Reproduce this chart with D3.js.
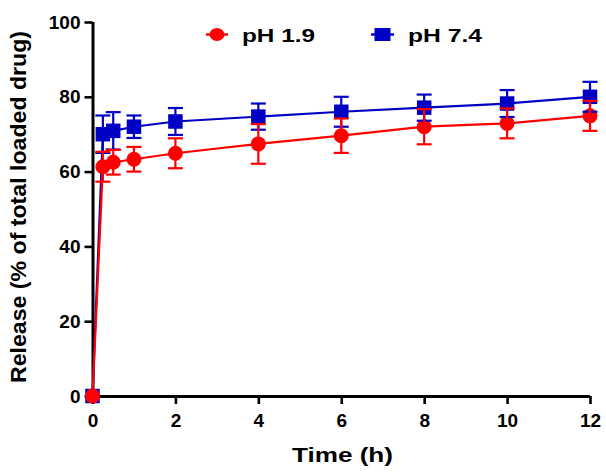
<!DOCTYPE html>
<html>
<head>
<meta charset="utf-8">
<script src="https://cdn.jsdelivr.net/npm/d3@7"></script>
<style>
  html, body { margin: 0; padding: 0; background: #fff; }
  svg { display: block; }
  text { font-family: "Liberation Sans", Arial, Helvetica, sans-serif; font-weight: bold; fill: #000; }
</style>
</head>
<body>
<div id="chart"></div>
<script>
// ---- data ----
const time = [0, 0.25, 0.5, 1, 2, 4, 6, 8, 10, 12];
const ph19 = [0, 61.3, 62.5, 63.3, 64.9, 67.4, 69.6, 72.0, 72.9, 74.9];
const ph19Err = [0, 4.0, 3.3, 3.3, 4.0, 5.3, 4.6, 4.7, 4.0, 4.0];
const ph74 = [0, 70.0, 70.9, 72.0, 73.4, 74.7, 76.0, 77.1, 78.2, 80.0];
const ph74Err = [0, 5.0, 5.0, 3.0, 3.6, 3.5, 4.0, 3.5, 3.6, 4.0];
const xTicks = [0, 2, 4, 6, 8, 10, 12];
const yTicks = [0, 20, 40, 60, 80, 100];
const seriesNames = ["pH 1.9", "pH 7.4"];
const xTitle = "Time (h)";
const yTitle = "Release (% of total loaded drug)";

const W = 606, H = 476;
const RED = "#ff0000", BLUE = "#0000c4";

const svg = d3.select("#chart").append("svg").attr("width", W).attr("height", H);

const x = d3.scaleLinear().domain([0, 12]).range([92.5, 590]);
const y = d3.scaleLinear().domain([0, 100]).range([396, 22]);

// axes
const xAxis = svg.append("g").attr("transform", "translate(0,396)")
  .call(d3.axisBottom(x).tickValues(xTicks).tickSize(8).tickSizeOuter(0).tickPadding(10).tickFormat(d3.format("d")));
const yAxis = svg.append("g").attr("transform", "translate(92.5,0)")
  .call(d3.axisLeft(y).tickValues(yTicks).tickSize(8).tickSizeOuter(0).tickPadding(4).tickFormat(d3.format("d")));
[xAxis, yAxis].forEach(a => {
  a.select(".domain").attr("stroke", "#000").attr("stroke-width", 3);
  a.selectAll(".tick line").attr("stroke", "#000").attr("stroke-width", 2.6);
  a.selectAll(".tick text").style("font-size", "19px").style("font-weight", "bold")
    .style("font-family", "'Liberation Sans', Arial, sans-serif").attr("fill", "#000");
});
// extend x domain to meet y axis corner
xAxis.select(".domain").attr("d", `M${x(0) - 1.5},0.5H${x(12)}`);
yAxis.select(".domain").attr("d", `M0.5,${y(0) + 1.5}V${y(100)}`);

// titles
svg.append("text").attr("x", 292).attr("y", 461.5).style("font-size", "21px")
  .attr("textLength", 101).attr("lengthAdjust", "spacingAndGlyphs").text(xTitle);
svg.append("text").attr("transform", "translate(26,383) rotate(-90)").style("font-size", "22px")
  .attr("textLength", 352).attr("lengthAdjust", "spacingAndGlyphs").text(yTitle);

// series
const series = [
  { name: seriesNames[1], vals: ph74, err: ph74Err, color: BLUE, shape: "square" },
  { name: seriesNames[0], vals: ph19, err: ph19Err, color: RED, shape: "circle" }
];

const line = d3.line().x(d => x(d[0])).y(d => y(d[1]));

series.forEach(s => {
  const pts = time.map((t, i) => [t, s.vals[i]]);
  svg.append("path").datum(pts).attr("d", line).attr("fill", "none")
    .attr("stroke", s.color).attr("stroke-width", 2.2);
});

function drawMarker(g, s, cx, cy, size) {
  if (s.shape === "circle") {
    g.append("circle").attr("cx", cx).attr("cy", cy).attr("r", size / 2).attr("fill", s.color);
  } else {
    g.append("rect").attr("x", cx - size / 2).attr("y", cy - size / 2)
      .attr("width", size).attr("height", size).attr("fill", s.color);
  }
}

series.forEach(s => {
  const g = svg.append("g");
  time.forEach((t, i) => drawMarker(g, s, x(t), y(s.vals[i]), s.shape === "circle" ? 15 : 14.5));
});

series.forEach(s => {
  const g = svg.append("g").attr("stroke", s.color).attr("stroke-width", 2.2).attr("fill", "none");
  time.forEach((t, i) => {
    if (!s.err[i]) return;
    const cx = x(t), y1 = y(s.vals[i] + s.err[i]), y0 = y(s.vals[i] - s.err[i]);
    g.append("line").attr("x1", cx).attr("x2", cx).attr("y1", y1).attr("y2", y0);
    g.append("line").attr("x1", cx - 7.5).attr("x2", cx + 7.5).attr("y1", y1).attr("y2", y1);
    g.append("line").attr("x1", cx - 7.5).attr("x2", cx + 7.5).attr("y1", y0).attr("y2", y0);
  });
});

// legend
const legend = [
  { s: series[1], lx: 206, lx2: 228, tx: 242, tl: 73 },
  { s: series[0], lx: 371, lx2: 394, tx: 408, tl: 74 }
];
legend.forEach(L => {
  const g = svg.append("g");
  g.append("line").attr("x1", L.lx).attr("x2", L.lx2).attr("y1", 34.5).attr("y2", 34.5)
    .attr("stroke", L.s.color).attr("stroke-width", 2.5);
  const cx = (L.lx + L.lx2) / 2;
  if (L.s.shape === "circle") {
    g.append("ellipse").attr("cx", cx).attr("cy", 34.5).attr("rx", 7.5).attr("ry", 6.5).attr("fill", L.s.color);
  } else {
    g.append("rect").attr("x", cx - 8).attr("y", 34.5 - 6.5).attr("width", 16).attr("height", 13).attr("fill", L.s.color);
  }
  g.append("text").attr("x", L.tx).attr("y", 41.5).style("font-size", "19px")
    .attr("textLength", L.tl).attr("lengthAdjust", "spacingAndGlyphs").text(L.s.name);
});
</script>
</body>
</html>
